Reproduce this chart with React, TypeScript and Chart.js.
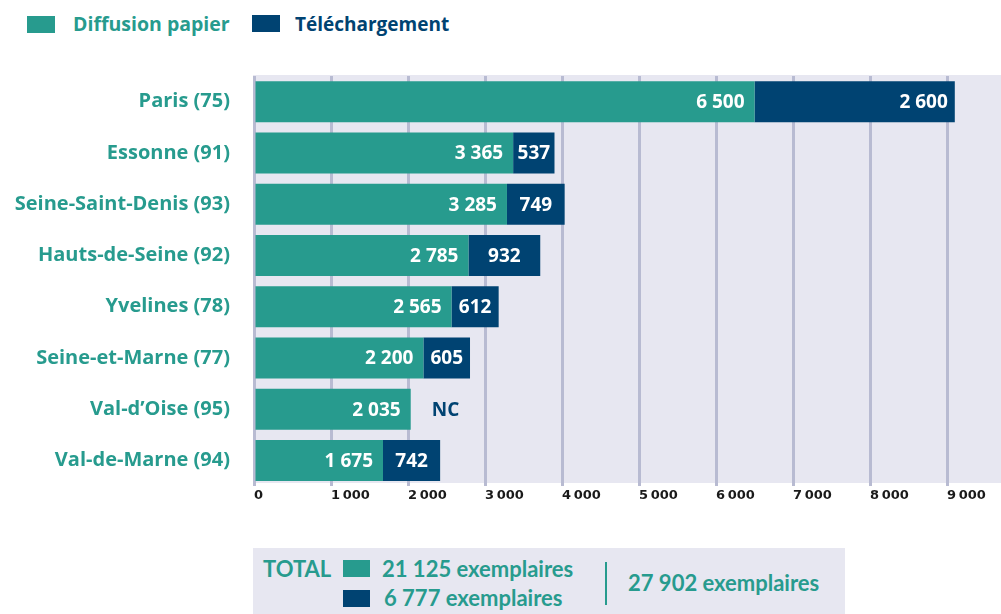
import React, { useEffect, useRef } from "react";
import { Chart, registerables } from "chart.js";

Chart.register(...registerables);

const categories = [
  "Paris (75)",
  "Essonne (91)",
  "Seine-Saint-Denis (93)",
  "Hauts-de-Seine (92)",
  "Yvelines (78)",
  "Seine-et-Marne (77)",
  "Val-d’Oise (95)",
  "Val-de-Marne (94)",
];
const papier = [6500, 3365, 3285, 2785, 2565, 2200, 2035, 1675];
const telechargement: (number | null)[] = [2600, 537, 749, 932, 612, 605, null, 742];
const xTickValues = [0, 1000, 2000, 3000, 4000, 5000, 6000, 7000, 8000, 9000];
const seriesNames = ["Diffusion papier", "Téléchargement"];
const missingLabel = "NC";
const totalPapier = "21 125 exemplaires";
const totalTele = "6 777 exemplaires";
const totalAll = "27 902 exemplaires";

const TEAL = "#279b8e";
const BLUE = "#004372";
const BG = "#e7e7f1";
const GRID = "#b8bbd2";
const FONT = "'Open Sans', Lato, sans-serif";
const FONT_TOTAL = "Lato, 'Open Sans', sans-serif";

const fmtTick = (v: number) => String(v).replace(/\B(?=(\d{3})+(?!\d))/g, "\u202F");
const fmtLabel = (v: number) => String(v).replace(/\B(?=(\d{3})+(?!\d))/g, " ");

const bgPlugin = {
  id: "bgPlugin",
  beforeDraw(chart: any) {
    const { ctx, chartArea } = chart;
    ctx.save();
    ctx.fillStyle = BG;
    ctx.fillRect(chartArea.left - 1, chartArea.top - 1, chartArea.right - chartArea.left + 1, chartArea.bottom - chartArea.top - 2);
    ctx.restore();
  },
};

const labelPlugin = {
  id: "labelPlugin",
  afterDatasetsDraw(chart: any) {
    const { ctx } = chart;
    ctx.save();
    ctx.font = `bold 19px ${FONT}`;
    ctx.textBaseline = "middle";
    const m0 = chart.getDatasetMeta(0);
    const m1 = chart.getDatasetMeta(1);
    m0.data.forEach((el: any, i: number) => {
      const v = papier[i];
      ctx.fillStyle = "#ffffff";
      ctx.textAlign = "right";
      ctx.fillText(fmtLabel(v), el.x - 10, el.y + 1);
    });
    m1.data.forEach((el: any, i: number) => {
      const v = telechargement[i];
      if (v === null || v === undefined) {
        const p = m0.data[i];
        ctx.fillStyle = BLUE;
        ctx.textAlign = "left";
        ctx.fillText(missingLabel, p.x + 21, p.y + 1);
        return;
      }
      const w = el.x - el.base;
      ctx.fillStyle = "#ffffff";
      if (w > 120) {
        ctx.textAlign = "right";
        ctx.fillText(fmtLabel(v), el.x - 7, el.y + 1);
      } else {
        ctx.textAlign = "center";
        ctx.fillText(fmtLabel(v), (el.x + el.base) / 2, el.y + 1);
      }
    });
    ctx.restore();
  },
};

export default function App() {
  const canvasRef = useRef<HTMLCanvasElement | null>(null);

  useEffect(() => {
    if (!canvasRef.current) return;
    const chart = new Chart(canvasRef.current, {
      type: "bar",
      data: {
        labels: categories,
        datasets: [
          {
            label: seriesNames[0],
            data: papier,
            backgroundColor: TEAL,
            barPercentage: 0.8,
            categoryPercentage: 1,
          },
          {
            label: seriesNames[1],
            data: telechargement as any,
            backgroundColor: BLUE,
            barPercentage: 0.8,
            categoryPercentage: 1,
          },
        ],
      },
      options: {
        indexAxis: "y",
        animation: false,
        responsive: false,
        maintainAspectRatio: false,
        layout: { padding: { top: 18, left: 0, right: 0, bottom: 0 } },
        plugins: {
          legend: { display: false },
          tooltip: { enabled: false },
        },
        scales: {
          x: {
            stacked: true,
            min: 0,
            max: 9700,
            grid: { color: GRID, lineWidth: 3, drawTicks: false },
            border: { display: false },
            afterBuildTicks: (scale: any) => {
              scale.ticks = xTickValues.map((v) => ({ value: v }));
            },
            afterFit: (scale: any) => {
              scale.height = 24;
              scale.paddingLeft = 0;
              scale.paddingRight = 0;
            },
            ticks: {
              align: "start",
              padding: 2,
              color: "#1a1a1a",
              font: { family: "'DejaVu Sans', sans-serif", weight: "bold", size: 13 },
              callback: (v: any) => fmtTick(Number(v)),
            },
          },
          y: {
            stacked: true,
            grid: { display: false, drawTicks: false },
            border: { display: false },
            afterFit: (scale: any) => {
              scale.width = 254;
              scale.paddingTop = 0;
              scale.paddingBottom = 0;
            },
            ticks: {
              padding: 24,
              color: TEAL,
              font: { family: FONT, weight: "bold", size: 20 },
            },
          },
        },
      },
      plugins: [bgPlugin, labelPlugin],
    });
    return () => chart.destroy();
  }, []);

  const txt = (extra: React.CSSProperties): React.CSSProperties => ({
    position: "absolute",
    fontWeight: 700,
    whiteSpace: "nowrap",
    lineHeight: "22px",
    ...extra,
  });

  return (
    <div style={{ position: "fixed", left: 0, top: 0, width: 1001, height: 614, background: "#fff", overflow: "hidden" }}>
      <div style={{ position: "absolute", left: 27, top: 16, width: 28, height: 17, background: TEAL }} />
      <div style={txt({ left: 73, top: 13, fontSize: 19.5, color: TEAL, fontFamily: FONT })}>{seriesNames[0]}</div>
      <div style={{ position: "absolute", left: 252, top: 15, width: 28, height: 17, background: BLUE }} />
      <div style={txt({ left: 295, top: 13, fontSize: 19, color: BLUE, fontFamily: FONT })}>{seriesNames[1]}</div>

      <canvas ref={canvasRef} width={1001} height={452} style={{ position: "absolute", left: 0, top: 58, width: 1001, height: 452 }} />

      <div style={{ position: "absolute", left: 253, top: 548, width: 592, height: 66, background: BG }} />
      <div style={txt({ left: 263, top: 558, fontSize: 22, color: TEAL, fontFamily: FONT_TOTAL })}>TOTAL</div>
      <div style={{ position: "absolute", left: 343, top: 560, width: 27, height: 17, background: TEAL }} />
      <div style={txt({ left: 382, top: 558, fontSize: 22, color: TEAL, fontFamily: FONT_TOTAL })}>{totalPapier}</div>
      <div style={{ position: "absolute", left: 343, top: 590, width: 27, height: 17, background: BLUE }} />
      <div style={txt({ left: 384, top: 587, fontSize: 22, color: TEAL, fontFamily: FONT_TOTAL })}>{totalTele}</div>
      <div style={{ position: "absolute", left: 605, top: 562, width: 2, height: 43, background: TEAL }} />
      <div style={txt({ left: 628, top: 572, fontSize: 22, color: TEAL, fontFamily: FONT_TOTAL })}>{totalAll}</div>
    </div>
  );
}
